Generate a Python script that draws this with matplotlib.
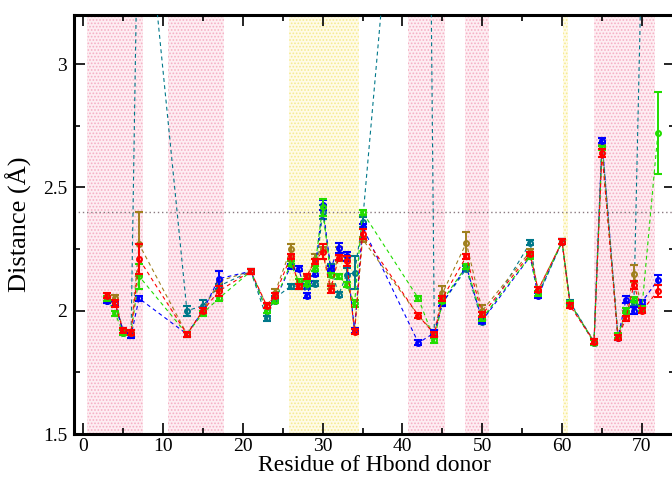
import matplotlib
matplotlib.use("Agg")
import matplotlib.pyplot as plt
from matplotlib.ticker import MultipleLocator

# ---------------- data ----------------
residues = [3, 4, 5, 6, 7, 13, 15, 17, 21, 23, 24, 26, 27, 28, 29, 30, 31, 32, 33, 34, 35,
            42, 44, 45, 48, 50, 56, 57, 60, 61, 64, 65, 67, 68, 69, 70, 72]

red = [2.06, 2.03, 1.92, 1.91, 2.21, 1.905, 2.00, 2.08, 2.16, 2.02, 2.06, 2.22, 2.10, 2.14, 2.20,
       2.24, 2.085, 2.215, 2.20, 1.915, 2.31, 1.98, 1.905, 2.05, 2.22, 1.985, 2.23, 2.085, 2.28,
       2.02, 1.875, 2.64, 1.89, 1.97, 2.105, 2.00, 2.08]
red_err = [0.01, 0.015, 0.01, 0.01, 0.06, 0.01, 0.01, 0.02, 0.01, 0.01, 0.01, 0.01, 0.01, 0.01, 0.01,
           0.03, 0.015, 0.01, 0.02, 0.01, 0.02, 0.01, 0.01, 0.01, 0.01, 0.01, 0.01, 0.01, 0.01,
           0.01, 0.01, 0.015, 0.01, 0.01, 0.015, 0.01, 0.025]

green = [2.05, 1.99, 1.91, 1.91, 2.14, 1.905, 1.99, 2.05, 2.16, 2.00, 2.04, 2.19, 2.12, 2.11, 2.17,
         2.42, 2.145, 2.14, 2.105, 2.03, 2.40, 2.05, 1.88, 2.04, 2.18, 1.97, 2.22, 2.07, 2.28,
         2.03, 1.87, 2.66, 1.90, 2.00, 2.045, 2.01, 2.72]
green_err = [0.01, 0.01, 0.01, 0.01, 0.05, 0.01, 0.01, 0.01, 0.01, 0.01, 0.01, 0.01, 0.01, 0.01, 0.01,
             0.035, 0.01, 0.01, 0.01, 0.015, 0.01, 0.01, 0.01, 0.01, 0.01, 0.01, 0.01, 0.01, 0.01,
             0.01, 0.01, 0.01, 0.01, 0.01, 0.01, 0.01, 0.165]

blue = [2.04, 2.03, 1.92, 1.90, 2.05, 1.905, 2.00, 2.13, 2.16, 2.00, 2.04, 2.18, 2.17, 2.06, 2.15,
        2.43, 2.17, 2.255, 2.22, 1.92, 2.34, 1.87, 1.91, 2.03, 2.18, 1.96, 2.22, 2.06, 2.28,
        2.03, 1.87, 2.69, 1.89, 2.045, 2.00, 2.035, 2.125]
blue_err = [0.01, 0.01, 0.01, 0.01, 0.01, 0.01, 0.01, 0.03, 0.01, 0.01, 0.01, 0.01, 0.01, 0.01, 0.01,
            0.02, 0.01, 0.02, 0.02, 0.01, 0.01, 0.01, 0.01, 0.01, 0.01, 0.01, 0.01, 0.01, 0.01,
            0.01, 0.01, 0.01, 0.01, 0.015, 0.015, 0.01, 0.02]

brown_res = residues[:-1]
brown = [2.05, 2.05, 1.92, 1.91, 2.27, 1.905, 2.00, 2.12, 2.16, 2.02, 2.07, 2.25, 2.10, 2.13, 2.21,
         2.25, 2.10, 2.23, 2.21, 1.92, 2.29, 1.98, 1.91, 2.07, 2.275, 2.00, 2.24, 2.085, 2.28,
         2.03, 1.875, 2.665, 1.895, 1.99, 2.15, 2.01]
brown_err = [0.01, 0.015, 0.01, 0.01, 0.13, 0.01, 0.01, 0.04, 0.01, 0.01, 0.02, 0.02, 0.01, 0.01, 0.02,
             0.01, 0.01, 0.03, 0.01, 0.01, 0.01, 0.01, 0.01, 0.03, 0.045, 0.025, 0.01, 0.01, 0.01,
             0.01, 0.01, 0.01, 0.01, 0.01, 0.035, 0.01]

teal_res = [3, 4, 5, 6, 7, 13, 15, 17, 21, 23, 24, 26, 27, 28, 29, 30, 31, 32, 33, 34, 35,
            43, 44, 45, 48, 50, 56, 57, 60, 61, 64, 65, 67, 68, 69, 70]
teal = [2.04, 2.03, 1.91, 1.90, 3.95, 2.00, 2.02, 2.10, 2.16, 1.97, 2.05, 2.10, 2.10, 2.10, 2.11,
        2.40, 2.18, 2.065, 2.145, 2.155, 2.36, 5.3, 1.90, 2.03, 2.17, 1.955, 2.275, 2.065, 2.28,
        2.035, 1.875, 2.69, 1.895, 1.99, 2.03, 3.5]
teal_err = [0.01, 0.01, 0.01, 0.01, 0.01, 0.02, 0.025, 0.01, 0.01, 0.01, 0.01, 0.01, 0.01, 0.01, 0.01,
            0.03, 0.01, 0.01, 0.03, 0.065, 0.02, 0.01, 0.01, 0.01, 0.01, 0.01, 0.01, 0.01, 0.01,
            0.01, 0.01, 0.01, 0.01, 0.01, 0.01, 0.01]

pink_spans = [(0.5, 7.55), (10.6, 17.6), (40.75, 45.3), (47.8, 50.9), (64.0, 71.7)]
yellow_spans = [(25.8, 34.6), (60.1, 60.8)]
threshold = 2.4

# ---------------- figure ----------------
plt.rcParams['font.family'] = ['Liberation Serif', 'DejaVu Serif']
plt.rcParams['hatch.linewidth'] = 0.8
fig = plt.figure(figsize=(6.72, 4.78), dpi=100)
ax = fig.add_axes([0.1101, 0.092, 0.895, 0.877])

for a, b in pink_spans:
    ax.axvspan(a, b, facecolor='#feedf2', edgecolor='#f5b0c4', hatch='.....', lw=0, zorder=0)
for a, b in yellow_spans:
    ax.axvspan(a, b, facecolor='#fffbe6', edgecolor='#f6ea90', hatch='.....', lw=0, zorder=0)

ax.axhline(threshold, color='#8a7a80', ls=(0, (1, 2)), lw=1.0, zorder=1)

series = [
    (teal_res, teal, teal_err, '#00788a'),
    (brown_res, brown, brown_err, '#a0801e'),
    (residues, blue, blue_err, '#0000ff'),
    (residues, green, green_err, '#22dd00'),
    (residues, red, red_err, '#ff0000'),
]
for i, (xs, ys, es, c) in enumerate(series):
    ax.errorbar(xs, ys, yerr=es, color=c, ls=(0, (3.5, 3)), lw=0.8,
                marker='o', ms=3.5, mfc='none', mec=c, mew=1.5,
                elinewidth=1.4, capsize=2.8, capthick=1.6, zorder=3 + i)

ax.set_xlim(-1.15, 74.2)
ax.set_ylim(1.5, 3.2)
ax.xaxis.set_major_locator(MultipleLocator(10))
ax.xaxis.set_minor_locator(MultipleLocator(5))
ax.yaxis.set_major_locator(MultipleLocator(0.5))
ax.yaxis.set_minor_locator(MultipleLocator(0.25))
ax.tick_params(which='both', direction='in', top=True, right=True, width=1.2)
ax.tick_params(which='major', length=8, labelsize=14)
ax.tick_params(which='minor', length=4)
ax.tick_params(axis='x', which='major', pad=3)
ax.tick_params(axis='y', which='major', pad=5)
ax.set_yticks([1.5, 2, 2.5, 3])
ax.set_yticklabels(['1.5', '2', '2.5', '3'])
for s in ax.spines.values():
    s.set_linewidth(2.2)

ax.set_xlabel('Residue of Hbond donor', fontsize=17, labelpad=0)
ax.set_ylabel('Distance (Å)', fontsize=19, labelpad=8)

fig.savefig('out.png', dpi=100)
